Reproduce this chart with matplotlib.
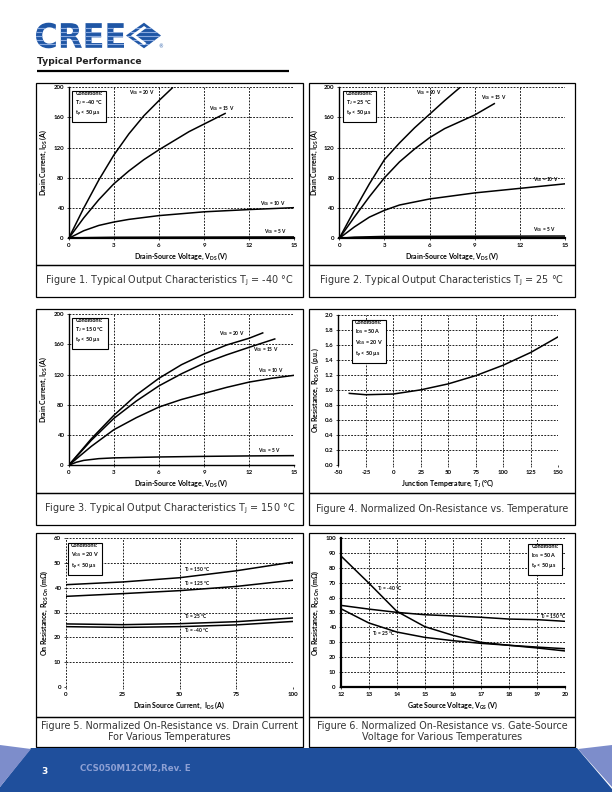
import matplotlib
matplotlib.use("Agg")
import matplotlib.pyplot as plt
from matplotlib.patches import Rectangle, Polygon, PathPatch
from matplotlib.textpath import TextPath
from matplotlib.font_manager import FontProperties
from matplotlib.transforms import Affine2D

# ---------------- data ----------------
# Fig 1: Tj = -40 C
f1_v20_x = [0, 1, 2, 3, 4, 5, 6, 6.9]
f1_v20_y = [0, 40, 77, 110, 138, 162, 182, 199]
f1_v15_x = [0, 1, 2, 3, 4, 5, 6, 7, 8, 9, 10.4]
f1_v15_y = [0, 27, 51, 72, 89, 104, 117, 129, 141, 151, 165]
f1_v10_x = [0, 0.5, 1, 2, 3, 4, 6, 9, 12, 15]
f1_v10_y = [0, 5, 10, 17, 21.5, 25, 30, 35, 38, 40.5]
f1_v5_x = [0, 1, 3, 15]
f1_v5_y = [0, 0.8, 1.3, 1.8]

# Fig 2: Tj = 25 C
f2_v20_x = [0, 1, 2, 3, 4, 5, 6, 7, 8]
f2_v20_y = [0, 37, 72, 104, 126, 146, 164, 182, 199]
f2_v15_x = [0, 1, 2, 3, 4, 5, 6, 7, 8, 9, 10.3]
f2_v15_y = [0, 28, 55, 80, 101, 118, 133, 145, 154, 163, 178]
f2_v10_x = [0, 1, 2, 3, 4, 6, 9, 12, 15]
f2_v10_y = [0, 15, 28, 37, 44, 52, 60, 66, 72]
f2_v5_x = [0, 1, 3, 15]
f2_v5_y = [0, 1.5, 2.5, 3]

# Fig 3: Tj = 150 C
f3_v20_x = [0, 1.5, 3, 4.5, 6, 7.5, 9, 10.5, 12, 12.9]
f3_v20_y = [0, 35, 66, 93, 115, 133, 147, 159, 168, 175]
f3_v15_x = [0, 1.5, 3, 4.5, 6, 7.5, 9, 10.5, 12, 13.7]
f3_v15_y = [0, 33, 62, 85, 105, 121, 135, 146, 156, 167]
f3_v10_x = [0, 1.5, 3, 4.5, 6, 7.5, 9, 10.5, 12, 13.5, 15]
f3_v10_y = [0, 25, 47, 63, 77, 87, 95, 103, 110, 115, 119]
f3_v5_x = [0, 0.5, 1, 2, 3, 6, 9, 12, 15]
f3_v5_y = [0, 4, 6.5, 8.8, 9.8, 11, 11.8, 12.4, 12.8]

# Fig 4: normalized on-resistance vs temperature
f4_t = [-40, -25, 0, 25, 50, 75, 100, 125, 150]
f4_r = [0.953, 0.935, 0.944, 1.00, 1.08, 1.19, 1.33, 1.50, 1.71]

# Fig 5: on-resistance vs drain current
f5_i = [0, 25, 50, 75, 100]
f5_r150 = [41.2, 42.3, 44.0, 46.8, 50.3]
f5_r125 = [36.5, 37.6, 38.8, 40.5, 43.0]
f5_r25 = [25.4, 25.1, 25.5, 26.3, 27.8]
f5_rm40 = [24.3, 24.0, 24.3, 25.0, 26.4]

# Fig 6: on-resistance vs gate-source voltage
f6_v = [12, 13, 14, 15, 16, 17, 18, 19, 20]
f6_rm40 = [88.1, 69.8, 50.8, 40.5, 34.7, 30.0, 28.0, 26.2, 24.2]
f6_r150 = [54.8, 52.3, 50.1, 48.5, 47.7, 46.8, 45.6, 45.2, 44.1]
f6_r25 = [52.6, 43.0, 36.9, 33.3, 31.1, 29.3, 28.0, 26.8, 25.7]

out_xticks = [0, 3, 6, 9, 12, 15]
out_yticks = [0, 40, 80, 120, 160, 200]
f4_xticks = [-50, -25, 0, 25, 50, 75, 100, 125, 150]
f4_yticks = [0.0, 0.2, 0.4, 0.6, 0.8, 1.0, 1.2, 1.4, 1.6, 1.8, 2.0]
f5_xticks = [0, 25, 50, 75, 100]
f5_yticks = [0, 10, 20, 30, 40, 50, 60]
f6_xticks = [12, 13, 14, 15, 16, 17, 18, 19, 20]
f6_yticks = [0, 10, 20, 30, 40, 50, 60, 70, 80, 90, 100]

captions = [
    r"Figure 1. Typical Output Characteristics T$_\mathregular{J}$ = -40 °C",
    r"Figure 2. Typical Output Characteristics T$_\mathregular{J}$ = 25 °C",
    r"Figure 3. Typical Output Characteristics T$_\mathregular{J}$ = 150 °C",
    "Figure 4. Normalized On-Resistance vs. Temperature",
    "Figure 5. Normalized On-Resistance vs. Drain Current\nFor Various Temperatures",
    "Figure 6. Normalized On-Resistance vs. Gate-Source\nVoltage for Various Temperatures",
]

# ---------------- layout ----------------
W, H = 612, 792
plt.rcParams['mathtext.default'] = 'regular'
CF = 'Lato'
fig = plt.figure(figsize=(W / 100, H / 100), dpi=100)

bg = fig.add_axes([0, 0, 1, 1], zorder=0)
bg.set_xlim(0, W)
bg.set_ylim(H, 0)
bg.axis('off')


def px_axes(x0, y0, x1, y1):
    return fig.add_axes([x0 / W, 1 - y1 / H, (x1 - x0) / W, (y1 - y0) / H], zorder=2)


# header: CREE logo
blue = '#1F56A5'
fp = FontProperties(family='DejaVu Sans', weight='heavy')
tp = TextPath((0, 0), 'CREE', size=10, prop=fp)
bb = tp.get_extents()
sx = 88 / bb.width
sy = 25.6 / bb.height
tr = Affine2D().translate(-bb.x0, -bb.y0).scale(sx, -sy).translate(36, 48.3)
logo = PathPatch(tr.transform_path(tp), fc=blue, ec='none')
bg.add_patch(logo)
for yy in [27.8, 31.8, 35.8, 39.8, 43.8]:
    ln, = bg.plot([34, 126], [yy, yy], color='#8AAAE0', lw=0.8, zorder=3)
    ln.set_clip_path(logo)
dia = Polygon([(126, 35.5), (144, 22.7), (161, 35.5), (144, 48.3)], closed=True,
              fc=blue, ec='none')
bg.add_patch(dia)
for yy in [27.8, 31.8, 35.8, 39.8, 43.8]:
    ln, = bg.plot([124, 163], [yy, yy], color='#8AAAE0', lw=0.8, zorder=3)
    ln.set_clip_path(dia)
bg.add_patch(Polygon([(131, 35.5), (144, 26), (146.5, 27.8), (136, 35.5), (146.5, 43.2), (144, 45)],
                     closed=True, fc='white', ec='none', zorder=4))
bg.text(158, 47, '®', fontsize=3.5, color=blue, ha='left', va='center')

bg.text(37, 62, 'Typical Performance', fontsize=6.6, fontweight='bold', family='DejaVu Sans',
        color='#222222', va='center', ha='left')
bg.plot([37, 289], [71, 71], color='black', lw=1.6, solid_capstyle='butt')

# boxes
cols = [(36, 303), (309, 575)]
rows = [(83, 265, 297), (309, 493, 525), (533, 717, 747)]
for (y0, ym, y1) in rows:
    for (x0, x1) in cols:
        bg.add_patch(Rectangle((x0, y0), x1 - x0, ym - y0, fill=False, ec='black', lw=0.9))
        bg.add_patch(Rectangle((x0, ym), x1 - x0, y1 - ym, fill=False, ec='black', lw=0.9))

cap_pos = [(169.5, 281), (442, 281), (169.5, 509), (442, 509), (169.5, 731.5), (442, 731.5)]
for (cx, cy), c in zip(cap_pos, captions):
    bg.text(cx, cy, c, fontsize=6.9, family='DejaVu Sans', color='#333333',
            ha='center', va='center', linespacing=1.15)

# footer
bg.add_patch(Polygon([(31, 748), (577, 748), (612, 789), (612, 792), (0, 792), (0, 787)],
                     closed=True, fc='#1F4F9C', ec='none'))
bg.add_patch(Polygon([(0, 745), (31, 749), (0, 787)], closed=True, fc='#7D8DCB', ec='none'))
bg.add_patch(Polygon([(578, 749), (612, 745), (612, 787)], closed=True, fc='#7D8DCB', ec='none'))
bg.text(44, 772, '3', fontsize=6.5, fontweight='bold', color='white', family='DejaVu Sans',
        ha='center', va='center')
bg.text(80, 768, 'CCS050M12CM2,Rev. E', fontsize=6.2, fontweight='bold', color='#8DA0D4',
        family='DejaVu Sans', ha='left', va='center')

TICK_FS = 4.4
LAB_FS = 5.0
ANN_FS = 3.5
COND_FS = 3.9


def style_axes(ax, xlim, ylim, xticks, yticks, xlabel, ylabel, yfmt, solid_left=True,
               solid_bottom=True, bottom_lw=1.0, left_lw=1.0):
    ax.set_facecolor('none')
    ax.set_xlim(*xlim)
    ax.set_ylim(*ylim)
    ax.set_xticks(xticks)
    ax.set_yticks(yticks)
    ax.set_xticklabels([str(t) for t in xticks], fontsize=TICK_FS, fontweight='bold', family=CF)
    ax.set_yticklabels([yfmt(t) for t in yticks], fontsize=TICK_FS, fontweight='bold', family=CF)
    ax.tick_params(length=1.5, width=0.5, pad=2)
    for s in ax.spines.values():
        s.set_visible(False)
    ax.spines['left'].set_visible(solid_left)
    ax.spines['left'].set_linewidth(left_lw)
    ax.spines['bottom'].set_visible(solid_bottom)
    ax.spines['bottom'].set_linewidth(bottom_lw)
    ds = (0, (2.2, 1.6))
    for t in xticks:
        if solid_left and t == xticks[0]:
            continue
        ax.axvline(t, color='black', lw=0.6, ls=ds, zorder=1)
    for t in yticks:
        if solid_bottom and t == yticks[0]:
            continue
        ax.axhline(t, color='black', lw=0.6, ls=ds, zorder=1)
    ax.set_xlabel(xlabel, fontsize=LAB_FS, fontweight='bold', family=CF, labelpad=2)
    ax.set_ylabel(ylabel, fontsize=LAB_FS, fontweight='bold', family=CF, labelpad=3)


def cond_box(ax, x, y, text, ha='left'):
    ax.text(x, y, text, fontsize=COND_FS, fontweight='bold', family=CF, ha=ha, va='top',
            linespacing=1.35, zorder=5,
            bbox=dict(boxstyle='square,pad=0.55', fc='white', ec='black', lw=0.8))


def ann(ax, x, y, text):
    ax.text(x, y, text, fontsize=ANN_FS, fontweight='bold', family=CF, ha='left', va='center',
            zorder=5)


LW = 1.1
vlab = r'Drain-Source Voltage, V$_\mathregular{DS}$ (V)'
ilab = r'Drain Current, I$_\mathregular{DS}$ (A)'
intfmt = lambda t: str(int(t))

# Fig 1
ax1 = px_axes(68.7, 87, 294.3, 238.3)
style_axes(ax1, (0, 15), (0, 200), out_xticks, out_yticks, vlab, ilab, intfmt, bottom_lw=1.6)
ax1.plot(f1_v20_x, f1_v20_y, color='black', lw=LW, zorder=3)
ax1.plot(f1_v15_x, f1_v15_y, color='black', lw=LW, zorder=3)
ax1.plot(f1_v10_x, f1_v10_y, color='black', lw=LW, zorder=3)
ax1.plot(f1_v5_x, f1_v5_y, color='black', lw=LW, zorder=3)
ann(ax1, 4.0, 193, r'V$_\mathregular{GS}$ = 20 V')
ann(ax1, 9.3, 172, r'V$_\mathregular{GS}$ = 15 V')
ann(ax1, 12.7, 46, r'V$_\mathregular{GS}$ = 10 V')
ann(ax1, 13.0, 9, r'V$_\mathregular{GS}$ = 5 V')
cond_box(ax1, 0.45, 195, 'Conditions:\nT$_\\mathregular{J}$ = -40 °C\nt$_\\mathregular{p}$ < 50 µs')

# Fig 2
ax2 = px_axes(339.3, 87, 565, 238.3)
style_axes(ax2, (0, 15), (0, 200), out_xticks, out_yticks, vlab, ilab, intfmt, bottom_lw=1.6)
ax2.plot(f2_v20_x, f2_v20_y, color='black', lw=LW, zorder=3)
ax2.plot(f2_v15_x, f2_v15_y, color='black', lw=LW, zorder=3)
ax2.plot(f2_v10_x, f2_v10_y, color='black', lw=LW, zorder=3)
ax2.plot(f2_v5_x, f2_v5_y, color='black', lw=LW, zorder=3)
ann(ax2, 5.1, 193, r'V$_\mathregular{GS}$ = 20 V')
ann(ax2, 9.4, 186, r'V$_\mathregular{GS}$ = 15 V')
ann(ax2, 12.85, 78, r'V$_\mathregular{GS}$ = 10 V')
ann(ax2, 12.9, 12, r'V$_\mathregular{GS}$ = 5 V')
cond_box(ax2, 0.45, 195, 'Conditions:\nT$_\\mathregular{J}$ = 25 °C\nt$_\\mathregular{p}$ < 50 µs')

# Fig 3
ax3 = px_axes(68.7, 314, 294.3, 465.3)
style_axes(ax3, (0, 15), (0, 200), out_xticks, out_yticks, vlab, ilab, intfmt)
ax3.plot(f3_v20_x, f3_v20_y, color='black', lw=LW, zorder=3)
ax3.plot(f3_v15_x, f3_v15_y, color='black', lw=LW, zorder=3)
ax3.plot(f3_v10_x, f3_v10_y, color='black', lw=LW, zorder=3)
ax3.plot(f3_v5_x, f3_v5_y, color='black', lw=LW, zorder=3)
ann(ax3, 10.0, 174, r'V$_\mathregular{GS}$ = 20 V')
ann(ax3, 12.25, 153, r'V$_\mathregular{GS}$ = 15 V')
ann(ax3, 12.6, 125, r'V$_\mathregular{GS}$ = 10 V')
ann(ax3, 12.6, 20, r'V$_\mathregular{GS}$ = 5 V')
cond_box(ax3, 0.45, 195, 'Conditions:\nT$_\\mathregular{J}$ = 150 °C\nt$_\\mathregular{p}$ < 50 µs')

# Fig 4
ax4 = px_axes(338.3, 315, 558.3, 464.7)
style_axes(ax4, (-50, 150), (0, 2.0), f4_xticks, f4_yticks,
           r'Junction Temperature, T$_\mathregular{J}$ (°C)',
           r'On Resistance, R$_\mathregular{DS\ On}$ (p.u.)', lambda t: f'{t:.1f}',
           solid_bottom=False)
ax4.plot(f4_t, f4_r, color='black', lw=LW, zorder=3)
cond_box(ax4, -35, 1.93, 'Conditions:\nI$_\\mathregular{DS}$ = 50 A\nV$_\\mathregular{GS}$ = 20 V\nt$_\\mathregular{p}$ < 50 µs')

# Fig 5
ax5 = px_axes(66, 538, 293, 687)
style_axes(ax5, (0, 100), (0, 60), f5_xticks, f5_yticks,
           r'Drain Source Current,  I$_\mathregular{DS}$ (A)',
           r'On Resistance, R$_\mathregular{DS\ On}$ (mΩ)', intfmt,
           solid_left=False, solid_bottom=False)
ax5.plot(f5_i, f5_r150, color='black', lw=LW, zorder=3)
ax5.plot(f5_i, f5_r125, color='black', lw=LW, zorder=3)
ax5.plot(f5_i, f5_r25, color='black', lw=LW, zorder=3)
ax5.plot(f5_i, f5_rm40, color='black', lw=LW, zorder=3)
ann(ax5, 52, 47.2, r'T$_\mathregular{J}$ = 150 °C')
ann(ax5, 52, 41.7, r'T$_\mathregular{J}$ = 125 °C')
ann(ax5, 52, 28.2, r'T$_\mathregular{J}$ = 25 °C')
ann(ax5, 52, 22.6, r'T$_\mathregular{J}$ = -40 °C')
cond_box(ax5, 2.2, 57.8, 'Conditions:\nV$_\\mathregular{GS}$ = 20 V\nt$_\\mathregular{p}$ < 50 µs')

# Fig 6
ax6 = px_axes(340.7, 538, 565, 687)
style_axes(ax6, (12, 20), (0, 100), f6_xticks, f6_yticks,
           r'Gate Source Voltage, V$_\mathregular{GS}$ (V)',
           r'On Resistance, R$_\mathregular{DS\ On}$ (mΩ)', intfmt,
           bottom_lw=1.6, left_lw=1.6)
ax6.plot(f6_v, f6_rm40, color='black', lw=LW, zorder=3)
ax6.plot(f6_v, f6_r150, color='black', lw=LW, zorder=3)
ax6.plot(f6_v, f6_r25, color='black', lw=LW, zorder=3)
ann(ax6, 13.3, 66.2, r'T$_\mathregular{J}$ = -40 °C')
ann(ax6, 19.1, 47.6, r'T$_\mathregular{J}$ = 150 °C')
ann(ax6, 13.1, 35.6, r'T$_\mathregular{J}$ = 25 °C')
cond_box(ax6, 18.8, 96.0, 'Conditions:\nI$_\\mathregular{DS}$ = 50 A\nt$_\\mathregular{p}$ < 50 µs')

fig.savefig('out.png', dpi=100)
